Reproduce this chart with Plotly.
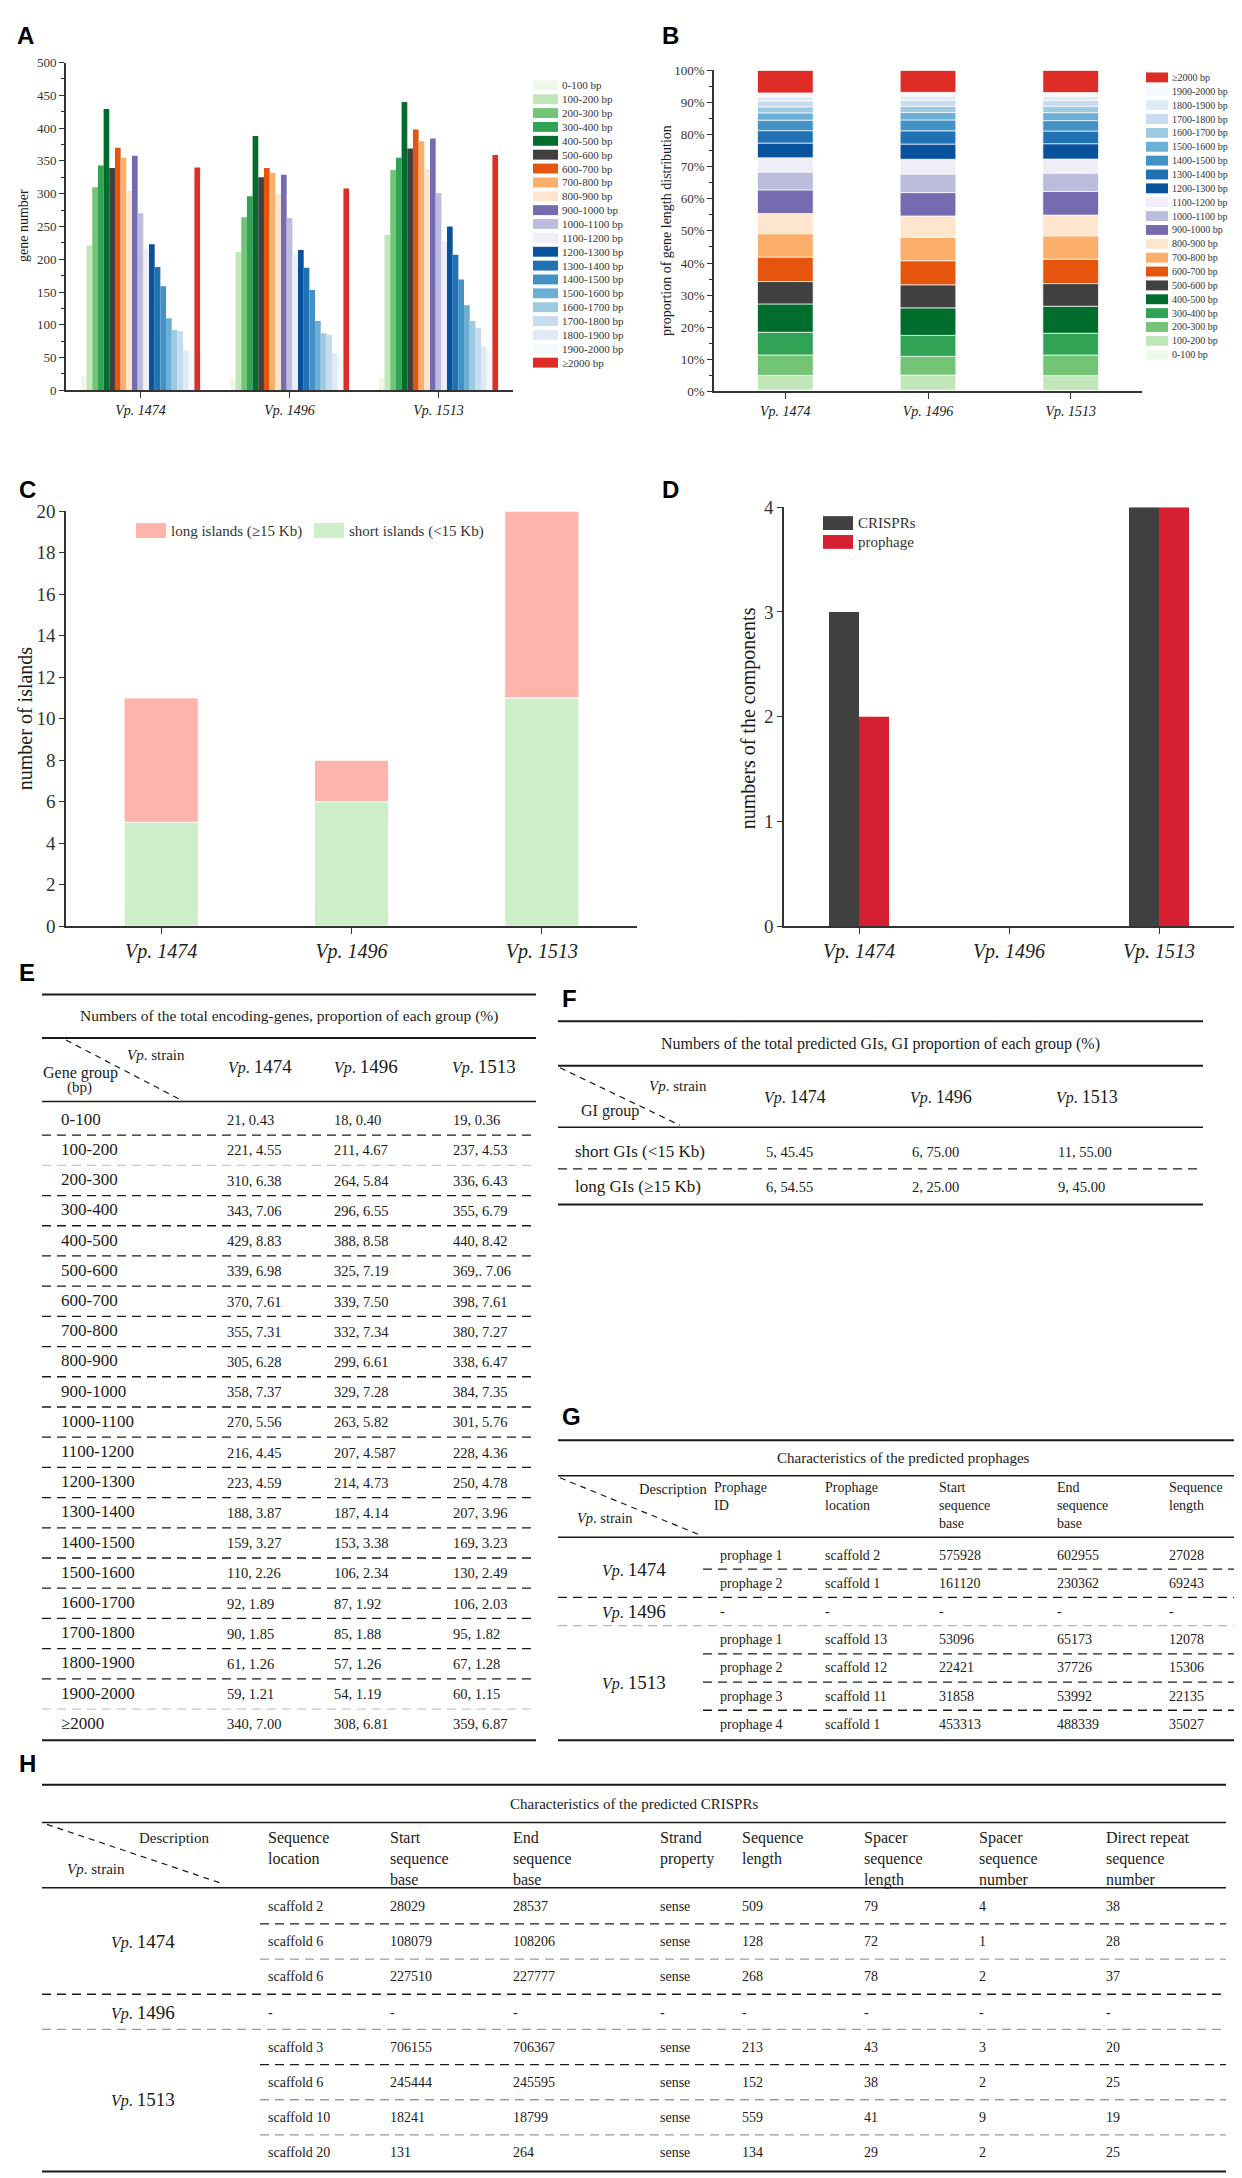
import numpy as np
import plotly.graph_objects as go

W, H = 1242, 2178
SERIF = "Liberation Serif"
SANS = "Liberation Sans"
INK = "#1a1a1a"
AX = "#333333"

# ---------------- data ----------------
strains = ["Vp. 1474", "Vp. 1496", "Vp. 1513"]
strain_nums = ["1474", "1496", "1513"]

gene_groups = ["0-100", "100-200", "200-300", "300-400", "400-500", "500-600", "600-700",
               "700-800", "800-900", "900-1000", "1000-1100", "1100-1200", "1200-1300",
               "1300-1400", "1400-1500", "1500-1600", "1600-1700", "1700-1800", "1800-1900",
               "1900-2000", "≥2000"]
counts_1474 = [21, 221, 310, 343, 429, 339, 370, 355, 305, 358, 270, 216, 223, 188, 159, 110, 92, 90, 61, 59, 340]
counts_1496 = [18, 211, 264, 296, 388, 325, 339, 332, 299, 329, 263, 207, 214, 187, 153, 106, 87, 85, 57, 54, 308]
counts_1513 = [19, 237, 336, 355, 440, 369, 398, 380, 338, 384, 301, 228, 250, 207, 169, 130, 106, 95, 67, 60, 359]
pct_1474 = ["0.43", "4.55", "6.38", "7.06", "8.83", "6.98", "7.61", "7.31", "6.28", "7.37", "5.56",
            "4.45", "4.59", "3.87", "3.27", "2.26", "1.89", "1.85", "1.26", "1.21", "7.00"]
pct_1496 = ["0.40", "4.67", "5.84", "6.55", "8.58", "7.19", "7.50", "7.34", "6.61", "7.28", "5.82",
            "4.587", "4.73", "4.14", "3.38", "2.34", "1.92", "1.88", "1.26", "1.19", "6.81"]
pct_1513 = ["0.36", "4.53", "6.43", "6.79", "8.42", "7.06", "7.61", "7.27", "6.47", "7.35", "5.76",
            "4.36", "4.78", "3.96", "3.23", "2.49", "2.03", "1.82", "1.28", "1.15", "6.87"]
cell_overrides = {(2, 5): "369,. 7.06"}

group_colors = ["#eef8ea", "#c1e6b9", "#74c476", "#31a354", "#006d2c", "#404040", "#e6550d",
                "#fdae6b", "#fee6ce", "#756bb1", "#bcbddc", "#efedf5", "#08519c", "#2171b5",
                "#4292c6", "#6baed6", "#9ecae1", "#c6dbef", "#deebf7", "#f4f9fe", "#de2d26"]

gi_short = [5, 6, 11]
gi_long = [6, 2, 9]
gi_short_pct = ["45.45", "75.00", "55.00"]
gi_long_pct = ["54.55", "25.00", "45.00"]

crispr_counts = [3, 0, 4]
prophage_counts = [2, 0, 4]

prophage_header = ["Prophage<br>ID", "Prophage<br>location", "Start<br>sequence<br>base",
                   "End<br>sequence<br>base", "Sequence<br>length"]
prophage_rows = {
    "1474": [["prophage 1", "scaffold 2", "575928", "602955", "27028"],
             ["prophage 2", "scaffold 1", "161120", "230362", "69243"]],
    "1496": [["-", "-", "-", "-", "-"]],
    "1513": [["prophage 1", "scaffold 13", "53096", "65173", "12078"],
             ["prophage 2", "scaffold 12", "22421", "37726", "15306"],
             ["prophage 3", "scaffold 11", "31858", "53992", "22135"],
             ["prophage 4", "scaffold 1", "453313", "488339", "35027"]],
}

crispr_header = ["Sequence<br>location", "Start<br>sequence<br>base", "End<br>sequence<br>base",
                 "Strand<br>property", "Sequence<br>length", "Spacer<br>sequence<br>length",
                 "Spacer<br>sequence<br>number", "Direct repeat<br>sequence<br>number"]
crispr_rows = {
    "1474": [["scaffold 2", "28029", "28537", "sense", "509", "79", "4", "38"],
             ["scaffold 6", "108079", "108206", "sense", "128", "72", "1", "28"],
             ["scaffold 6", "227510", "227777", "sense", "268", "78", "2", "37"]],
    "1496": [["-", "-", "-", "-", "-", "-", "-", "-"]],
    "1513": [["scaffold 3", "706155", "706367", "sense", "213", "43", "3", "20"],
             ["scaffold 6", "245444", "245595", "sense", "152", "38", "2", "25"],
             ["scaffold 10", "18241", "18799", "sense", "559", "41", "9", "19"],
             ["scaffold 20", "131", "264", "sense", "134", "29", "2", "25"]],
}

# ---------------- helpers ----------------
def X(p):
    return p / W


def Y(p):
    return 1 - p / H


annotations = []
shapes = []


def text(x, y, s, size=13, xa="left", ya="middle", family=SERIF, color=INK, angle=0, align="left"):
    annotations.append(dict(x=X(x), y=Y(y), xref="paper", yref="paper", text=s, showarrow=False,
                            xanchor=xa, yanchor=ya, textangle=angle, align=align, borderpad=0,
                            font=dict(size=size, family=family, color=color)))


def line(x0, y0, x1, y1, w=1.5, dash=None, color=INK):
    ln = dict(width=w, color=color)
    if dash:
        ln["dash"] = dash
    shapes.append(dict(type="line", xref="paper", yref="paper", x0=X(x0), y0=Y(y0),
                       x1=X(x1), y1=Y(y1), line=ln))


def rect(x0, y0, x1, y1, color):
    shapes.append(dict(type="rect", xref="paper", yref="paper", x0=X(x0), y0=Y(y1),
                       x1=X(x1), y1=Y(y0), fillcolor=color, line=dict(width=0)))


def vp(num, big=15):
    return f"<i>Vp</i>. <span style='font-size:{big}px'>{num}</span>"


def panel(letter, x, y):
    text(x, y, f"<b>{letter}</b>", size=24, family=SANS, color="#000", ya="middle")


DASH = "9px,6px"

fig = go.Figure()
cat_ticktext = [f"<i>{s}</i>" for s in strains]
counts_all = np.array([counts_1474, counts_1496, counts_1513], dtype=float)

# ---------------- A: grouped bars ----------------
for i, g in enumerate(gene_groups):
    fig.add_trace(go.Bar(x=strains, y=counts_all[:, i], marker=dict(color=group_colors[i], line=dict(width=0)),
                         xaxis="x", yaxis="y", showlegend=False, name=g + " bp"))

# ---------------- B: 100% stacked ----------------
pct_vals = counts_all / counts_all.sum(axis=1, keepdims=True) * 100
bases = np.cumsum(pct_vals, axis=1) - pct_vals
for i, g in enumerate(gene_groups):
    fig.add_trace(go.Bar(x=strains, y=pct_vals[:, i], base=bases[:, i], width=0.39, offset=-0.195,
                         marker=dict(color=group_colors[i], line=dict(color="white", width=0.7)),
                         xaxis="x2", yaxis="y2", showlegend=False, name=g + " bp"))

# ---------------- C: stacked islands ----------------
fig.add_trace(go.Bar(x=strains, y=gi_short, width=0.39, offset=-0.195,
                     marker=dict(color="#cdeec8", line=dict(color="white", width=1)),
                     xaxis="x3", yaxis="y3", showlegend=False, name="short islands"))
fig.add_trace(go.Bar(x=strains, y=gi_long, base=gi_short, width=0.39, offset=-0.195,
                     marker=dict(color="#ffb4ab", line=dict(color="white", width=1)),
                     xaxis="x3", yaxis="y3", showlegend=False, name="long islands"))

# ---------------- D: grouped components ----------------
fig.add_trace(go.Bar(x=strains, y=crispr_counts, width=0.2, offset=-0.2,
                     marker=dict(color="#404040", line=dict(width=0)),
                     xaxis="x4", yaxis="y4", showlegend=False, name="CRISPRs"))
fig.add_trace(go.Bar(x=strains, y=prophage_counts, width=0.2, offset=0.0,
                     marker=dict(color="#d62031", line=dict(width=0)),
                     xaxis="x4", yaxis="y4", showlegend=False, name="prophage"))


def xax(x0, x1, anchor, size):
    return dict(domain=[X(x0), X(x1)], anchor=anchor, type="category", range=[-0.5, 2.5],
                showline=True, linecolor=AX, linewidth=1.6, ticks="outside", ticklen=6,
                tickwidth=1.4, tickcolor=AX, showgrid=False, zeroline=False,
                tickmode="array", tickvals=strains, ticktext=cat_ticktext,
                tickfont=dict(family=SERIF, size=size, color="#222"), fixedrange=True)


def yax(y0, y1, anchor, rng, dtick, size, minor=None, tickvals=None, ticktext=None):
    d = dict(domain=[Y(y1), Y(y0)], anchor=anchor, range=rng, showline=True, linecolor=AX,
             linewidth=1.6, ticks="outside", ticklen=5, tickwidth=1.3, tickcolor=AX,
             showgrid=False, zeroline=False, dtick=dtick,
             tickfont=dict(family=SERIF, size=size, color="#333"), fixedrange=True)
    if minor:
        d["minor"] = dict(dtick=minor, ticks="outside", ticklen=3, tickcolor=AX, tickwidth=1)
    if tickvals is not None:
        d["tickmode"] = "array"
        d["tickvals"] = tickvals
        d["ticktext"] = ticktext
    return d


b_ticks = list(range(0, 101, 10))
fig.update_layout(
    xaxis=xax(58, 505, "y", 14),
    yaxis=yax(45, 376, "x", [0, 500], 50, 13, minor=25),
    xaxis2=xax(706, 1134, "y2", 14),
    yaxis2=yax(53, 377, "x2", [0, 100], 10, 13, minor=5, tickvals=b_ticks,
               ticktext=[f"{v}%" for v in b_ticks]),
    xaxis3=xax(58, 629, "y3", 20),
    yaxis3=yax(498, 917, "x3", [0, 20], 2, 19),
    xaxis4=xax(776, 1226, "y4", 20),
    yaxis4=yax(494, 917, "x4", [0, 4], 1, 19),
)

# axis titles
text(16, 210, "gene number", size=14, xa="center", ya="middle", angle=-90)
text(659, 215, "proportion of gene length distribution", size=14, xa="center", ya="middle", angle=-90)
text(17, 707, "number of islands", size=20, xa="center", ya="middle", angle=-90)
text(740, 707, "numbers of the components", size=20, xa="center", ya="middle", angle=-90)

# legends A and B (manual, tight spacing)
for i, g in enumerate(gene_groups):
    cy = 68 + 14 * i
    rect(525, cy - 5, 550, cy + 5, group_colors[i])
    text(553, cy, g + " bp", size=11, color="#333")
for k, i in enumerate(reversed(range(len(gene_groups)))):
    cy = 60 + 14 * k
    rect(1138, cy - 5, 1160, cy + 5, group_colors[i])
    text(1163, cy, gene_groups[i] + " bp", size=10, color="#333")

# legend C
rect(128, 510, 158, 525, "#ffb4ab")
text(162, 518, "long islands (≥15 Kb)", size=15, color="#333")
rect(306, 510, 336, 525, "#cdeec8")
text(340, 518, "short islands (<15 Kb)", size=15, color="#333")
# legend D
rect(815, 503, 845, 517, "#404040")
text(849, 510, "CRISPRs", size=15, color="#333")
rect(815, 522, 845, 536, "#d62031")
text(849, 529, "prophage", size=15, color="#333")

panel("A", 8, 18)
panel("B", 653, 18)
panel("C", 10, 476)
panel("D", 653, 476)

# ---------------- E table ----------------
panel("E", 10, 964)
e_x0, e_x1 = 34, 528
line(e_x0, 986, e_x1, 986, w=2)
text((e_x0 + e_x1) / 2, 1008, "Numbers of the total encoding-genes, proportion of each group (%)",
     size=15.5, xa="center")
line(e_x0, 1030, e_x1, 1030, w=2)
line(58, 1032, 172, 1092, w=1.2, dash="6px,5px")
text(118, 1047, "<i>Vp</i>. strain", size=15)
text(34, 1065, "Gene group", size=16)
text(58, 1080, "(bp)", size=15)
e_hdr = [252, 358, 476]
for j, num in enumerate(strain_nums):
    text(e_hdr[j], 1059, vp(num, 19), size=16, xa="center")
line(e_x0, 1094, e_x1, 1094, w=1.4)
e_cols = [218, 325, 444]
pcts = [pct_1474, pct_1496, pct_1513]
cnts = [counts_1474, counts_1496, counts_1513]
row0, rstep = 1113, 30.5
for i, g in enumerate(gene_groups):
    yy = row0 + rstep * i
    text(52, yy - 1, g, size=17)
    for j in range(3):
        s = cell_overrides.get((j, i), f"{cnts[j][i]}, {pcts[j][i]}")
        text(e_cols[j], yy, s, size=14.5)
    if i < len(gene_groups) - 1:
        col = "#c8c8c8" if i in (1, 19) else INK
        line(e_x0, yy + 15, e_x1, yy + 15, w=1.3, dash=DASH, color=col)
e_bottom = row0 + rstep * 20 + 16
line(e_x0, e_bottom, e_x1, e_bottom, w=2)

# ---------------- F table ----------------
panel("F", 553, 990)
f_x0, f_x1 = 550, 1195
line(f_x0, 1013, f_x1, 1013, w=2)
text((f_x0 + f_x1) / 2, 1036, "Numbers of the total predicted GIs, GI proportion of each group (%)",
     size=16, xa="center")
line(f_x0, 1058, f_x1, 1058, w=2)
line(f_x0 + 2, 1060, 672, 1118, w=1.2, dash="6px,5px")
text(640, 1078, "<i>Vp</i>. strain", size=15)
text(572, 1104, "GI group", size=16)
f_cols = [757, 903, 1049]
for j, num in enumerate(strain_nums):
    text(f_cols[j] + 30, 1090, vp(num, 18), size=16, xa="center")
line(f_x0, 1120, f_x1, 1120, w=1.6)
text(566, 1145, "short GIs (<15 Kb)", size=17)
text(566, 1180, "long GIs (≥15 Kb)", size=17)
for j in range(3):
    text(f_cols[j], 1145, f"{gi_short[j]}, {gi_short_pct[j]}", size=14.5)
    text(f_cols[j], 1180, f"{gi_long[j]}, {gi_long_pct[j]}", size=14.5)
line(f_x0, 1162, f_x1, 1162, w=1.3, dash=DASH)
line(f_x0, 1198, f_x1, 1198, w=2)

# ---------------- G table ----------------
panel("G", 553, 1412)
g_x0, g_x1 = 550, 1240
line(g_x0, 1436, g_x1, 1436, w=2)
text((g_x0 + g_x1) / 2, 1454, "Characteristics of the predicted prophages", size=15, xa="center")
line(g_x0, 1472, g_x1, 1472, w=1.6)
line(g_x0 + 2, 1474, 690, 1531, w=1.2, dash="6px,5px")
text(630, 1485, "Description", size=14.5)
text(568, 1515, "<i>Vp</i>. strain", size=14.5)
g_cols = [705, 816, 930, 1048, 1160]
for c, hdr in zip(g_cols, prophage_header):
    text(c, 1475, hdr, size=14, ya="top")
line(g_x0, 1534, g_x1, 1534, w=1.6)
g_step = 28.5
gy = 1552
for si, num in enumerate(strain_nums):
    rows = prophage_rows[num]
    ys = [gy + g_step * k for k in range(len(rows))]
    text(626, (ys[0] + ys[-1]) / 2, vp(num, 19), size=16, xa="center")
    for k, r in enumerate(rows):
        for c, v in zip(g_cols, r):
            text(c + (6 if c == g_cols[0] else 0), ys[k], v, size=14)
        if k < len(rows) - 1:
            line(695, ys[k] + 14.25, g_x1, ys[k] + 14.25, w=1.3, dash=DASH)
    gy = ys[-1] + g_step
    if si < 2:
        line(g_x0, ys[-1] + 14.25, g_x1, ys[-1] + 14.25, w=1.3, dash=DASH,
             color=INK if si == 0 else "#b5b5b5")
line(g_x0, e_bottom, g_x1, e_bottom, w=2)

# ---------------- H table ----------------
panel("H", 10, 1762)
h_x0, h_x1 = 34, 1218
line(h_x0, 1784, h_x1, 1784, w=2)
text((h_x0 + h_x1) / 2, 1803, "Characteristics of the predicted CRISPRs", size=15, xa="center")
line(h_x0, 1822, h_x1, 1822, w=1.6)
line(h_x0 + 5, 1824, 215, 1884, w=1.2, dash="6px,5px")
text(130, 1838, "Description", size=15)
text(58, 1869, "<i>Vp</i>. strain", size=15)
h_cols = [259, 381, 504, 651, 733, 855, 970, 1097]
for c, hdr in zip(h_cols, crispr_header):
    text(c, 1828, hdr, size=16, ya="top")
line(h_x0, 1888, h_x1, 1888, w=1.6)
hy = 1907
h_step = 35.5
for si, num in enumerate(strain_nums):
    rows = crispr_rows[num]
    ys = [hy + h_step * k for k in range(len(rows))]
    text(135, (ys[0] + ys[-1]) / 2, vp(num, 19), size=16, xa="center")
    for k, r in enumerate(rows):
        for c, v in zip(h_cols, r):
            text(c, ys[k], v, size=14)
        if k < len(rows) - 1:
            line(252, ys[k] + 17.5, h_x1, ys[k] + 17.5, w=1.3, dash=DASH,
                 color=INK if k == 0 else "#9a9a9a")
    hy = ys[-1] + h_step
    if si < 2:
        line(h_x0, ys[-1] + 17.5, h_x1, ys[-1] + 17.5, w=1.3, dash=DASH,
             color=INK if si == 0 else "#9a9a9a")
line(h_x0, hy - h_step + 19, h_x1, hy - h_step + 19, w=2)

fig.update_layout(
    width=W, height=H, margin=dict(l=0, r=0, t=0, b=0),
    paper_bgcolor="white", plot_bgcolor="white",
    barmode="group", bargap=0.2, bargroupgap=0,
    showlegend=False, font=dict(family=SERIF, color=INK),
    annotations=annotations, shapes=shapes,
)

fig.write_html("out.html")
